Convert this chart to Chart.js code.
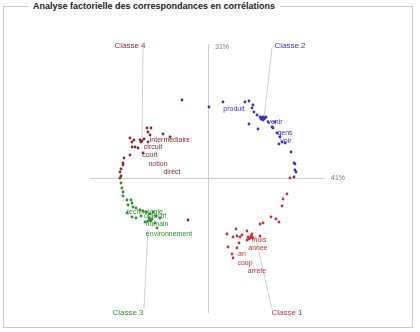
<!DOCTYPE html>
<html>
<head>
<meta charset="utf-8">
<script src="https://cdn.jsdelivr.net/npm/chart.js@4.4.0/dist/chart.umd.min.js"></script>
<style>
  body { margin: 0; background: #fff; }
  .wrap { position: relative; width: 420px; height: 332px; }
  .frame { position: absolute; left: 3px; top: 6px; width: 408px; height: 320px; border: 1px solid #c8c8c8; }
  .legend { position: absolute; left: 28px; top: 0; padding: 0 5px; background: #fff;
            font: bold 9px "Liberation Sans", Arial, sans-serif; color: #222; line-height: 12px; }
  canvas { position: absolute; left: 0; top: 0; }
</style>
</head>
<body>
<div class="wrap">
  <div class="frame"></div>
  <span class="legend">Analyse factorielle des correspondances en corrélations</span>
  <canvas id="afc" width="420" height="332"></canvas>
</div>
<script>
// axis inertia labels
const axisX = '41%';
const axisY = '31%';

// class names, colours and where their captions sit (x, y) + point the leader line goes to
const classNames = ['Classe 1', 'Classe 2', 'Classe 3', 'Classe 4'];
const classColors = ['#c83232', '#3535b5', '#2f8f2f', '#8a2a2a'];
const classLabelPos = [[0.79, -1.35], [0.82, 1.32], [-0.80, -1.35], [-0.78, 1.32]];
const classLineTop = [[0.64, -1.31], [0.64, 1.30], [-0.64, -1.31], [-0.65, 1.30]];
const classCenter = [[0.47, -0.57], [0.56, 0.60], [-0.60, -0.50], [-0.66, 0.38]];

// word coordinates per class
const classe1Points = [
  [0.82, 0.00], [0.79, -0.16], [0.75, -0.21], [0.74, -0.28], [0.63, -0.39], [0.68, -0.41],
  [0.71, -0.44], [0.55, -0.45], [0.52, -0.46], [0.52, -0.58], [0.39, -0.53], [0.28, -0.51],
  [0.44, -0.56], [0.19, -0.56], [0.25, -0.59], [0.29, -0.58], [0.32, -0.59], [0.34, -0.57],
  [0.40, -0.59], [0.42, -0.60], [0.44, -0.59], [0.41, -0.61], [0.39, -0.62], [0.20, -0.69],
  [0.29, -0.70], [0.31, -0.65], [0.24, -0.76], [0.25, -0.80], [0.43, -0.58], [0.45, -0.60]
];
const classe2Points = [
  [0.15, 0.76], [0.37, 0.76], [0.41, 0.77], [0.01, 0.71], [0.44, 0.70], [0.45, 0.73],
  [0.46, 0.66], [0.49, 0.63], [0.52, 0.61], [0.54, 0.60], [0.56, 0.59], [0.55, 0.61],
  [0.57, 0.60], [0.53, 0.59], [0.41, 0.54], [0.50, 0.49], [0.60, 0.56], [0.67, 0.56],
  [0.64, 0.51], [0.65, 0.50], [0.69, 0.45], [0.72, 0.41], [0.74, 0.36], [0.77, 0.35],
  [0.71, 0.34], [0.83, 0.26], [0.86, 0.15], [0.87, 0.14], [0.87, 0.08], [0.88, 0.06],
  [0.86, 0.01], [0.55, 0.58], [0.58, 0.61]
];
const classe3Points = [
  [-0.87, -0.05], [-0.86, -0.10], [-0.85, -0.14], [-0.85, -0.18], [-0.81, -0.22], [-0.77, -0.22],
  [-0.76, -0.25], [-0.80, -0.27], [-0.75, -0.29], [-0.72, -0.30], [-0.68, -0.32], [-0.65, -0.33],
  [-0.62, -0.34], [-0.58, -0.36], [-0.55, -0.34], [-0.52, -0.38], [-0.81, -0.35], [-0.76, -0.39],
  [-0.72, -0.40], [-0.58, -0.42], [-0.60, -0.43], [-0.56, -0.41], [-0.59, -0.40], [-0.63, -0.44],
  [-0.53, -0.45], [-0.51, -0.50], [-0.67, -0.38], [-0.48, -0.40], [-0.57, -0.43]
];
const classe4Points = [
  [-0.26, 0.78], [-0.61, 0.50], [-0.57, 0.50], [-0.60, 0.46], [-0.58, 0.43], [-0.45, 0.44],
  [-0.38, 0.41], [-0.66, 0.37], [-0.68, 0.38], [-0.64, 0.39], [-0.67, 0.36], [-0.78, 0.40],
  [-0.76, 0.36], [-0.74, 0.38], [-0.76, 0.31], [-0.73, 0.31], [-0.70, 0.30], [-0.60, 0.36],
  [-0.65, 0.25], [-0.78, 0.23], [-0.84, 0.20], [-0.85, 0.15], [-0.85, 0.13], [-0.87, 0.09],
  [-0.88, 0.06], [-0.87, 0.02], [-0.88, 0.00], [-0.20, -0.42]
];

// labelled words: text, x, y
const classe1Words = [['mois', 0.51, -0.62], ['annee', 0.50, -0.70], ['an', 0.34, -0.76], ['coup', 0.37, -0.85], ['arrete', 0.49, -0.93]];
const classe2Words = [['produit', 0.26, 0.69], ['venir', 0.67, 0.56], ['gens', 0.77, 0.45], ['voir', 0.78, 0.37]];
const classe3Words = [['technologie', -0.63, -0.34], ['objectif', -0.53, -0.38], ['humain', -0.51, -0.46], ['environnement', -0.39, -0.56]];
const classe4Words = [['intermediaire', -0.38, 0.38], ['circuit', -0.55, 0.31], ['court', -0.58, 0.23], ['notion', -0.50, 0.14], ['direct', -0.36, 0.06]];

const allPoints = [classe1Points, classe2Points, classe3Points, classe4Points];
const allWords = [classe1Words, classe2Words, classe3Words, classe4Words];

const font = '"Liberation Sans", Arial, sans-serif';

const afcPlugin = {
  id: 'afc',
  beforeDatasetsDraw(chart) {
    const { ctx, scales: { x, y } } = chart;
    ctx.save();
    ctx.strokeStyle = '#cfcfcf';
    ctx.lineWidth = 1;
    // axes
    ctx.beginPath();
    ctx.moveTo(Math.round(x.getPixelForValue(0)) + 0.5, y.getPixelForValue(1.34));
    ctx.lineTo(Math.round(x.getPixelForValue(0)) + 0.5, y.getPixelForValue(-1.35));
    ctx.moveTo(x.getPixelForValue(-1.18), Math.round(y.getPixelForValue(0)) + 0.5);
    ctx.lineTo(x.getPixelForValue(1.17), Math.round(y.getPixelForValue(0)) + 0.5);
    // leader lines
    classCenter.forEach((c, i) => {
      ctx.moveTo(x.getPixelForValue(classLineTop[i][0]), y.getPixelForValue(classLineTop[i][1]));
      ctx.lineTo(x.getPixelForValue(c[0]), y.getPixelForValue(c[1]));
    });
    ctx.stroke();
    ctx.fillStyle = '#777';
    ctx.font = '7px ' + font;
    ctx.textBaseline = 'middle';
    ctx.fillText(axisY, x.getPixelForValue(0.07), y.getPixelForValue(1.31));
    ctx.fillText(axisX, x.getPixelForValue(1.23), y.getPixelForValue(0));
    ctx.restore();
  },
  afterDatasetsDraw(chart) {
    const { ctx, scales: { x, y } } = chart;
    ctx.save();
    ctx.textAlign = 'center';
    ctx.textBaseline = 'middle';
    ctx.font = '7px ' + font;
    allWords.forEach((words, i) => {
      ctx.fillStyle = classColors[i];
      words.forEach(w => ctx.fillText(w[0], x.getPixelForValue(w[1]), y.getPixelForValue(w[2])));
    });
    ctx.font = '8px ' + font;
    classNames.forEach((name, i) => {
      ctx.fillStyle = classColors[i];
      ctx.fillText(name, x.getPixelForValue(classLabelPos[i][0]), y.getPixelForValue(classLabelPos[i][1]));
    });
    ctx.restore();
  }
};

new Chart(document.getElementById('afc'), {
  type: 'scatter',
  data: {
    datasets: allPoints.map((pts, i) => ({
      label: classNames[i],
      data: pts.map(p => ({ x: p[0], y: p[1] })),
      backgroundColor: classColors[i],
      borderWidth: 0,
      pointRadius: 1.4,
    })),
  },
  options: {
    responsive: false,
    animation: false,
    layout: { padding: { left: 88, right: 92, top: 40, bottom: 14 } },
    scales: {
      x: { display: false, min: -1.2, max: 1.2 },
      y: { display: false, min: -1.4, max: 1.38 },
    },
    plugins: {
      legend: { display: false },
      tooltip: { enabled: false },
    },
  },
  plugins: [afcPlugin],
});
</script>
</body>
</html>
